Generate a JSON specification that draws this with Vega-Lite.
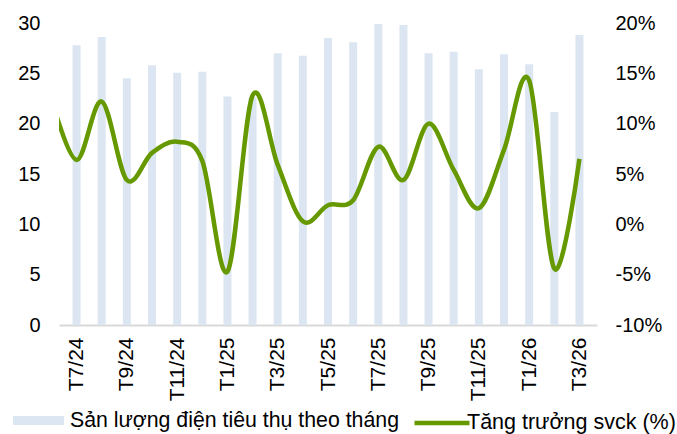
{
  "$schema": "https://vega.github.io/schema/vega-lite/v6.json",
  "width": 538,
  "height": 302,
  "autosize": {"type": "none"},
  "padding": {"left": 59, "top": 23, "right": 80, "bottom": 109},
  "background": "white",
  "config": {
    "view": {"stroke": null},
    "font": "Liberation Sans",
    "axis": {"labelFont": "Liberation Sans", "labelColor": "#000000", "grid": false, "ticks": false, "title": null},
    "legend": {"labelFont": "Liberation Sans", "labelColor": "#000000", "labelLimit": 500}
  },
  "datasets": {
    "bars": [
      {"i": 1, "thang": "T7/24", "san_luong": 27.8},
      {"i": 2, "thang": "T8/24", "san_luong": 28.6},
      {"i": 3, "thang": "T9/24", "san_luong": 24.5},
      {"i": 4, "thang": "T10/24", "san_luong": 25.8},
      {"i": 5, "thang": "T11/24", "san_luong": 25.05},
      {"i": 6, "thang": "T12/24", "san_luong": 25.15},
      {"i": 7, "thang": "T1/25", "san_luong": 22.7},
      {"i": 8, "thang": "T2/25", "san_luong": 22.6},
      {"i": 9, "thang": "T3/25", "san_luong": 27.0},
      {"i": 10, "thang": "T4/25", "san_luong": 26.75},
      {"i": 11, "thang": "T5/25", "san_luong": 28.5},
      {"i": 12, "thang": "T6/25", "san_luong": 28.1},
      {"i": 13, "thang": "T7/25", "san_luong": 29.9},
      {"i": 14, "thang": "T8/25", "san_luong": 29.8},
      {"i": 15, "thang": "T9/25", "san_luong": 27.0},
      {"i": 16, "thang": "T10/25", "san_luong": 27.15},
      {"i": 17, "thang": "T11/25", "san_luong": 25.4},
      {"i": 18, "thang": "T12/25", "san_luong": 26.9},
      {"i": 19, "thang": "T1/26", "san_luong": 25.9},
      {"i": 20, "thang": "T2/26", "san_luong": 21.15},
      {"i": 21, "thang": "T3/26", "san_luong": 28.8}
    ],
    "growth": [
      {"i": 0, "thang": "T6/24", "tang_truong": 0.125},
      {"i": 1, "thang": "T7/24", "tang_truong": 0.064},
      {"i": 2, "thang": "T8/24", "tang_truong": 0.122},
      {"i": 3, "thang": "T9/24", "tang_truong": 0.044},
      {"i": 4, "thang": "T10/24", "tang_truong": 0.071},
      {"i": 5, "thang": "T11/24", "tang_truong": 0.082},
      {"i": 6, "thang": "T12/24", "tang_truong": 0.063},
      {"i": 7, "thang": "T1/25", "tang_truong": -0.047},
      {"i": 8, "thang": "T2/25", "tang_truong": 0.128},
      {"i": 9, "thang": "T3/25", "tang_truong": 0.059},
      {"i": 10, "thang": "T4/25", "tang_truong": 0.003},
      {"i": 11, "thang": "T5/25", "tang_truong": 0.019},
      {"i": 12, "thang": "T6/25", "tang_truong": 0.024},
      {"i": 13, "thang": "T7/25", "tang_truong": 0.077},
      {"i": 14, "thang": "T8/25", "tang_truong": 0.044},
      {"i": 15, "thang": "T9/25", "tang_truong": 0.1},
      {"i": 16, "thang": "T10/25", "tang_truong": 0.054},
      {"i": 17, "thang": "T11/25", "tang_truong": 0.016},
      {"i": 18, "thang": "T12/25", "tang_truong": 0.074},
      {"i": 19, "thang": "T1/26", "tang_truong": 0.143},
      {"i": 20, "thang": "T2/26", "tang_truong": -0.044},
      {"i": 21, "thang": "T3/26", "tang_truong": 0.065}
    ]
  },
  "layer": [
    {
      "data": {"name": "bars"},
      "mark": {"type": "bar", "size": 8},
      "encoding": {
        "x": {
          "field": "i",
          "type": "quantitative",
          "scale": {"domain": [0.5, 21.5], "nice": false, "zero": false},
          "axis": {
            "values": [1, 3, 5, 7, 9, 11, 13, 15, 17, 19, 21],
            "labelExpr": "['','T7/24','T8/24','T9/24','T10/24','T11/24','T12/24','T1/25','T2/25','T3/25','T4/25','T5/25','T6/25','T7/25','T8/25','T9/25','T10/25','T11/25','T12/25','T1/26','T2/26','T3/26'][datum.value]",
            "labelAngle": -90,
            "labelAlign": "right",
            "labelBaseline": "middle",
            "labelFontSize": 21,
            "labelPadding": 12,
            "labelFlush": false,
            "labelOverlap": false,
            "domainColor": "#d9d9d9",
            "domainWidth": 2
          }
        },
        "y": {
          "field": "san_luong",
          "type": "quantitative",
          "scale": {"domain": [0, 30], "nice": false},
          "axis": {
            "orient": "left",
            "values": [0, 5, 10, 15, 20, 25, 30],
            "domain": false,
            "labelFontSize": 20,
            "labelPadding": 19
          }
        },
        "fill": {
          "datum": "Sản lượng điện tiêu thụ theo tháng",
          "scale": {"range": ["#dce6f2"]},
          "legend": {
            "orient": "none",
            "legendX": -46,
            "legendY": 372,
            "title": null,
            "padding": 0,
            "symbolType": "M-1,-0.18H1V0.18H-1Z",
            "symbolSize": 2601,
            "symbolStrokeWidth": 0,
            "labelFontSize": 21.3,
            "labelOffset": 6,
            "labelLimit": 500,
            "rowPadding": 0
          }
        }
      }
    },
    {
      "data": {"name": "growth"},
      "mark": {"type": "line", "interpolate": "cardinal", "tension": 0, "strokeWidth": 4.5, "clip": true},
      "encoding": {
        "x": {"field": "i", "type": "quantitative"},
        "y": {
          "field": "tang_truong",
          "type": "quantitative",
          "scale": {"domain": [-0.1, 0.2], "nice": false},
          "axis": {
            "orient": "right",
            "values": [-0.1, -0.05, 0, 0.05, 0.1, 0.15, 0.2],
            "labelExpr": "replace(format(datum.value, '.0%'), '\u2212', '-')",
            "domain": false,
            "labelFontSize": 20,
            "labelPadding": 18
          }
        },
        "stroke": {
          "datum": "Tăng trưởng svck (%)",
          "scale": {"range": ["#669900"]},
          "legend": {
            "orient": "none",
            "legendX": 353,
            "legendY": 370,
            "title": null,
            "padding": 0,
            "symbolType": "stroke",
            "symbolSize": 3025,
            "symbolStrokeWidth": 4.5,
            "labelFontSize": 21.5,
            "labelOffset": -5,
            "labelLimit": 500,
            "rowPadding": 0
          }
        }
      }
    }
  ],
  "resolve": {"scale": {"y": "independent", "fill": "independent", "stroke": "independent"}}
}
